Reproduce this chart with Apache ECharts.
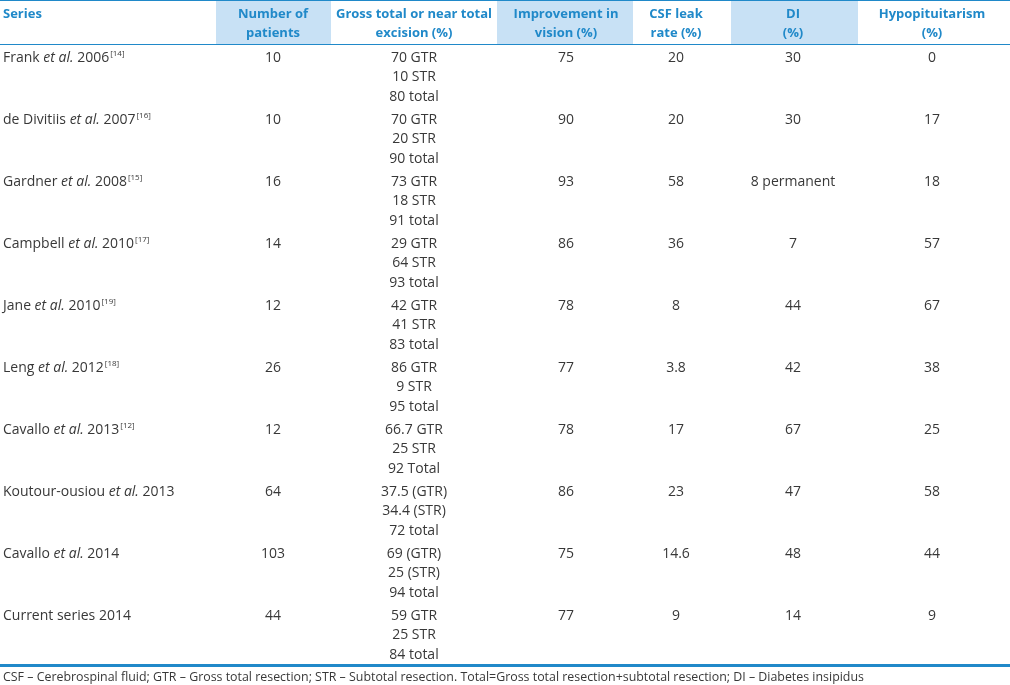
<!DOCTYPE html>
<html>
<head>
<meta charset="utf-8">
<script src="https://cdn.jsdelivr.net/npm/echarts@6/dist/echarts.min.js"></script>
<style>html,body{margin:0;padding:0;background:#fff}#c{width:1010px;height:685px}</style>
</head>
<body>
<div id="c"></div>
<script>
// ---- data ----
var headers = ['Series', 'Number of\npatients', 'Gross total or near total\nexcision (%)', 'Improvement in\nvision (%)', 'CSF leak\nrate (%)', 'DI\n(%)', 'Hypopituitarism\n(%)'];
var authors = ['Frank', 'de Divitiis', 'Gardner', 'Campbell', 'Jane', 'Leng', 'Cavallo', 'Koutour-ousiou', 'Cavallo', 'Current series'];
var hasEtAl = [true, true, true, true, true, true, true, true, true, false];
var years = ['2006', '2007', '2008', '2010', '2010', '2012', '2013', '2013', '2014', '2014'];
var refs = ['[14]', '[16]', '[15]', '[17]', '[19]', '[18]', '[12]', '', '', ''];
var patients = ['10', '10', '16', '14', '12', '26', '12', '64', '103', '44'];
var excision = [
  ['70 GTR', '10 STR', '80 total'],
  ['70 GTR', '20 STR', '90 total'],
  ['73 GTR', '18 STR', '91 total'],
  ['29 GTR', '64 STR', '93 total'],
  ['42 GTR', '41 STR', '83 total'],
  ['86 GTR', '9 STR', '95 total'],
  ['66.7 GTR', '25 STR', '92 Total'],
  ['37.5 (GTR)', '34.4 (STR)', '72 total'],
  ['69 (GTR)', '25 (STR)', '94 total'],
  ['59 GTR', '25 STR', '84 total']
];
var vision = ['75', '90', '93', '86', '78', '77', '78', '86', '75', '77'];
var csfLeak = ['20', '20', '58', '36', '8', '3.8', '17', '23', '14.6', '9'];
var di = ['30', '30', '8 permanent', '7', '44', '42', '67', '47', '48', '14'];
var hypo = ['0', '17', '18', '57', '67', '38', '25', '58', '44', '9'];
var footnote = 'CSF \u2013 Cerebrospinal fluid; GTR \u2013 Gross total resection; STR \u2013 Subtotal resection. Total=Gross total resection+subtotal resection; DI \u2013 Diabetes insipidus';

// ---- layout (styles only) ----
var colCenters = [null, 273, 414, 566, 676, 793, 932];
var highlight = [[216, 331], [497, 633], [731, 858]];
var FONT = '"Open Sans", sans-serif';
var TXT = '#383838';
var BLUE = '#2089c9';
var HEAD_H = 44;
var BODY_FS = 14;

var rowIdx = authors.map(function (_, i) { return i; });
var chart = echarts.init(document.getElementById('c'));

var graphics = [];
highlight.forEach(function (h) {
  graphics.push({ type: 'rect', shape: { x: h[0], y: 1, width: h[1] - h[0], height: HEAD_H - 1 }, style: { fill: '#c8e1f5' }, silent: true });
});
graphics.push({ type: 'line', shape: { x1: 0, y1: 0.5, x2: 1010, y2: 0.5 }, style: { stroke: BLUE, lineWidth: 1 } });
graphics.push({ type: 'line', shape: { x1: 0, y1: HEAD_H + 0.5, x2: 1010, y2: HEAD_H + 0.5 }, style: { stroke: BLUE, lineWidth: 1 } });
graphics.push({ type: 'line', shape: { x1: 0, y1: 665.5, x2: 1010, y2: 665.5 }, style: { stroke: BLUE, lineWidth: 3 } });
headers.forEach(function (h, i) {
  graphics.push({
    type: 'text', x: i === 0 ? 3 : colCenters[i], y: 5,
    style: { text: h, font: 'bold 13px ' + FONT, fill: BLUE, align: i === 0 ? 'left' : 'center', verticalAlign: 'top', lineHeight: 19 }
  });
});
graphics.push({ type: 'text', x: 3, y: 677, style: { text: footnote, font: '12.4px ' + FONT, fill: TXT, verticalAlign: 'middle' } });

function renderItem(params, api) {
  var r = api.value(0);
  var c = api.coord([0, r]);
  var band = api.size([0, 1])[1];
  var top = c[1] - band / 2;
  var y1 = top + 14;
  var children = [];
  var i = r;
  var nameText = authors[i] + (hasEtAl[i] ? ' {i|et al.}' : '') + ' ' + years[i] + (refs[i] ? '{s|' + refs[i] + '}' : '');
  children.push({
    type: 'text', x: api.coord([3, r])[0], y: y1,
    style: {
      text: nameText, font: BODY_FS + 'px ' + FONT, fill: TXT, verticalAlign: 'middle',
      rich: { i: { fontStyle: 'italic', fontSize: BODY_FS, fontFamily: FONT, fill: TXT }, s: { fontSize: 8, fontFamily: FONT, fill: TXT, verticalAlign: 'top', padding: [0, 0, 8, 1] } }
    }
  });
  var singles = [[1, patients[i]], [3, vision[i]], [4, csfLeak[i]], [5, di[i]], [6, hypo[i]]];
  singles.forEach(function (s) {
    children.push({ type: 'text', x: api.coord([colCenters[s[0]], r])[0], y: y1, style: { text: s[1], font: BODY_FS + 'px ' + FONT, fill: TXT, align: 'center', verticalAlign: 'middle' } });
  });
  excision[i].forEach(function (t, k) {
    children.push({ type: 'text', x: api.coord([colCenters[2], r])[0], y: y1 + k * 19.5, style: { text: t, font: BODY_FS + 'px ' + FONT, fill: TXT, align: 'center', verticalAlign: 'middle' } });
  });
  return { type: 'group', children: children };
}

chart.setOption({
  animation: false,
  grid: { left: 0, right: 0, top: HEAD_H, bottom: 685 - 664 },
  xAxis: { type: 'value', min: 0, max: 1010, show: false },
  yAxis: { type: 'category', data: rowIdx, inverse: true, show: false },
  graphic: graphics,
  series: [{
    type: 'custom',
    renderItem: renderItem,
    data: rowIdx.map(function (r) { return [r]; }),
    encode: { y: 0 }
  }]
});
</script>
</body>
</html>
